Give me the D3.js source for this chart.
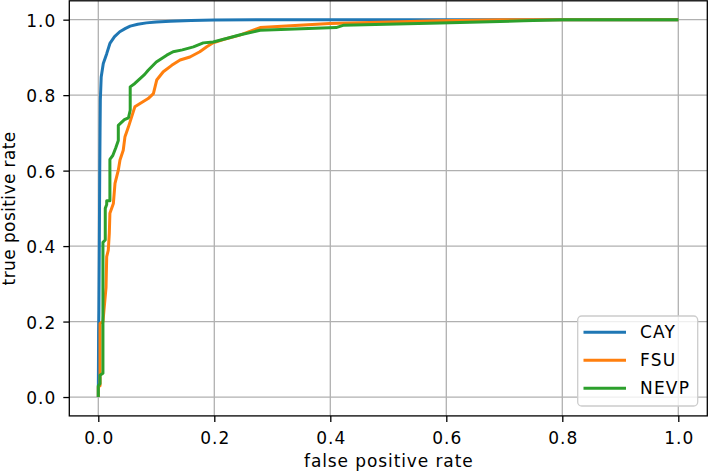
<!DOCTYPE html>
<html>
<head>
<meta charset="utf-8">
<script src="https://cdn.jsdelivr.net/npm/d3@7"></script>
<style>
  html, body { margin: 0; padding: 0; background: #fff; }
  svg { display: block; font-family: "DejaVu Sans", sans-serif; }
</style>
</head>
<body>
<svg id="chart" width="709" height="474"></svg>
<script>
// ---- data ----
const seriesNames = ["CAY", "FSU", "NEVP"];
const seriesColors = ["#1f77b4", "#ff7f0e", "#2ca02c"];

const cayFpr = [0, 0.0005, 0.001, 0.0017, 0.0025, 0.003, 0.0035, 0.005, 0.0086, 0.0145, 0.02, 0.028, 0.037, 0.047, 0.055, 0.068, 0.083, 0.1, 0.124, 0.16, 0.2, 0.3, 0.5, 1.0];
const cayTpr = [0, 0.17, 0.23, 0.39, 0.60, 0.70, 0.787, 0.848, 0.884, 0.91, 0.937, 0.955, 0.968, 0.977, 0.983, 0.988, 0.9915, 0.994, 0.996, 0.998, 0.999, 1.0, 1.0, 1.0];

const fsuFpr = [0, 0, 0.003, 0.003, 0.008, 0.0133, 0.0145, 0.0172, 0.019, 0.020, 0.026, 0.0288, 0.0345, 0.0374, 0.043, 0.046, 0.052, 0.063, 0.072, 0.086, 0.095, 0.1007, 0.112, 0.1266, 0.141, 0.158, 0.175, 0.187, 0.198, 0.2155, 0.244, 0.279, 0.399, 0.589, 0.7, 1.0];
const fsuTpr = [0, 0.027, 0.03, 0.195, 0.2, 0.29, 0.372, 0.389, 0.434, 0.487, 0.513, 0.566, 0.601, 0.628, 0.654, 0.69, 0.716, 0.769, 0.778, 0.791, 0.804, 0.84, 0.862, 0.879, 0.893, 0.901, 0.915, 0.928, 0.9386, 0.9474, 0.959, 0.979, 0.99, 0.997, 1.0, 1.0];

const nevpFpr = [0, 0, 0.003, 0.003, 0.008, 0.008, 0.012, 0.012, 0.0145, 0.0145, 0.02, 0.02, 0.025, 0.03, 0.0345, 0.0345, 0.045, 0.052, 0.055, 0.055, 0.063, 0.072, 0.08, 0.086, 0.1, 0.118, 0.129, 0.145, 0.164, 0.181, 0.198, 0.221, 0.245, 0.279, 0.41, 0.422, 0.589, 0.733, 0.8, 1.0];
const nevpTpr = [0, 0.03, 0.035, 0.058, 0.063, 0.41, 0.416, 0.5, 0.51, 0.52, 0.52, 0.63, 0.64, 0.66, 0.68, 0.72, 0.735, 0.74, 0.76, 0.822, 0.831, 0.844, 0.855, 0.866, 0.888, 0.906, 0.915, 0.92, 0.928, 0.9385, 0.941, 0.95, 0.96, 0.972, 0.979, 0.985, 0.9915, 0.997, 1.0, 1.0];

const xTicks = [0, 0.2, 0.4, 0.6, 0.8, 1.0];
const yTicks = [0, 0.2, 0.4, 0.6, 0.8, 1.0];
const xLabel = "false positive rate";
const yLabel = "true positive rate";

const series = [
  { name: seriesNames[0], color: seriesColors[0], pts: cayFpr.map((f, i) => [f, cayTpr[i]]) },
  { name: seriesNames[1], color: seriesColors[1], pts: fsuFpr.map((f, i) => [f, fsuTpr[i]]) },
  { name: seriesNames[2], color: seriesColors[2], pts: nevpFpr.map((f, i) => [f, nevpTpr[i]]) }
];

// ---- layout ----
const pLeft = 69.3, pRight = 707.3, pTop = 0.8, pBottom = 415.9;
const FS = "17px";
const x = d3.scaleLinear().domain([-0.05, 1.05]).range([pLeft, pRight]);
const y = d3.scaleLinear().domain([-0.05, 1.05]).range([pBottom, pTop]);

const svg = d3.select("#chart");
const fmt = d3.format(".1f");

// grid
const grid = svg.append("g");
grid.selectAll("line.gx").data(xTicks).enter().append("line")
  .attr("x1", d => x(d)).attr("x2", d => x(d))
  .attr("y1", pTop).attr("y2", pBottom)
  .attr("stroke", "#b0b0b0").attr("stroke-width", 1.3);
grid.selectAll("line.gy").data(yTicks).enter().append("line")
  .attr("x1", pLeft).attr("x2", pRight)
  .attr("y1", d => y(d)).attr("y2", d => y(d))
  .attr("stroke", "#b0b0b0").attr("stroke-width", 1.3);

// lines
const line = d3.line().x(d => x(d[0])).y(d => y(d[1]));
svg.append("g").selectAll("path").data(series).enter().append("path")
  .attr("d", d => line(d.pts))
  .attr("fill", "none")
  .attr("stroke", d => d.color)
  .attr("stroke-width", 3)
  .attr("stroke-linejoin", "round")
  .attr("stroke-linecap", "butt");

// axes
const xAxis = d3.axisBottom(x).tickValues(xTicks).tickFormat(fmt).tickSize(6);
const yAxis = d3.axisLeft(y).tickValues(yTicks).tickFormat(fmt).tickSize(6);

const gx = svg.append("g").attr("transform", `translate(0,${pBottom})`).call(xAxis);
const gy = svg.append("g").attr("transform", `translate(${pLeft},0)`).call(yAxis);
[gx, gy].forEach(g => {
  g.select(".domain").remove();
  g.selectAll(".tick line").attr("stroke", "#000").attr("stroke-width", 1.3);
  g.selectAll(".tick text").attr("fill", "#000")
    .style("font-family", "'DejaVu Sans', sans-serif").style("font-size", FS)
    .style("letter-spacing", "1px");
});
gx.selectAll(".tick text").attr("y", 28.5).attr("dy", 0).attr("dx", 0.5);
gy.selectAll(".tick text").attr("x", -13).attr("dy", "0.38em");

// spines
svg.append("rect")
  .attr("x", pLeft).attr("y", pTop)
  .attr("width", pRight - pLeft).attr("height", pBottom - pTop)
  .attr("fill", "none").attr("stroke", "#000").attr("stroke-width", 1.3);

// axis labels
svg.append("text")
  .attr("x", (pLeft + pRight) / 2 + 0.5).attr("y", 467)
  .attr("text-anchor", "middle")
  .style("font-size", FS).style("letter-spacing", "0.9px").attr("fill", "#000")
  .text(xLabel);
svg.append("text")
  .attr("transform", `translate(14.5,${(pTop + pBottom) / 2}) rotate(-90)`)
  .attr("text-anchor", "middle")
  .style("font-size", FS).style("letter-spacing", "0.4px").attr("fill", "#000")
  .text(yLabel);

// legend
const lg = svg.append("g");
lg.append("rect")
  .attr("x", 577.7).attr("y", 316).attr("width", 120).attr("height", 90)
  .attr("rx", 4).attr("ry", 4)
  .attr("fill", "#fff").attr("fill-opacity", 0.8)
  .attr("stroke", "#cccccc").attr("stroke-width", 1.3);
const rows = lg.selectAll("g.row").data(series).enter().append("g")
  .attr("transform", (d, i) => `translate(0,${332.3 + i * 28})`);
rows.append("line")
  .attr("x1", 583.5).attr("x2", 626)
  .attr("y1", 0).attr("y2", 0)
  .attr("stroke", d => d.color).attr("stroke-width", 3);
rows.append("text")
  .attr("x", 640).attr("y", 0).attr("dy", "0.36em")
  .style("font-size", FS).style("letter-spacing", "1.2px").attr("fill", "#000")
  .text(d => d.name);
</script>
</body>
</html>
